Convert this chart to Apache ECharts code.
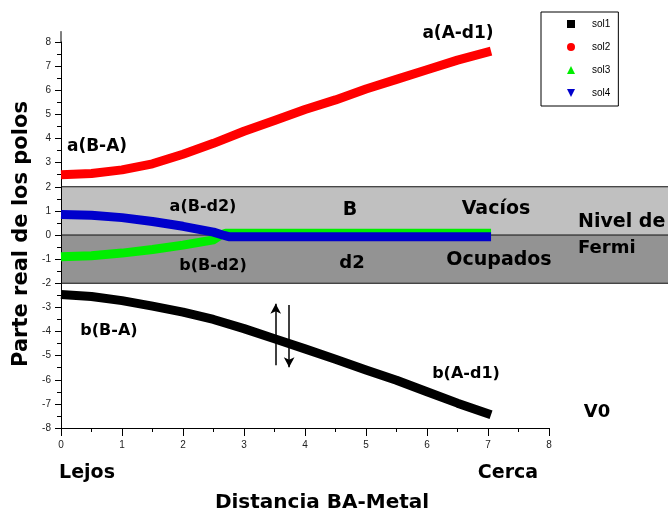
<!DOCTYPE html>
<html>
<head>
<meta charset="utf-8">
<script src="https://cdn.jsdelivr.net/npm/echarts@6/dist/echarts.min.js"></script>
<style>html,body{margin:0;padding:0;background:#fff;}#c{width:668px;height:522px;}</style>
</head>
<body>
<div id="c"></div>
<script>
// ---- data ----
const sol1X = [0, 0.5, 1, 1.5, 2, 2.5, 3, 3.5, 4, 4.5, 5, 5.5, 6, 6.5, 7.05];
const sol1Y = [-2.47, -2.55, -2.72, -2.95, -3.2, -3.5, -3.88, -4.3, -4.72, -5.15, -5.6, -6.02, -6.5, -6.97, -7.45];
const sol2X = [0, 0.5, 1, 1.5, 2, 2.5, 3, 3.5, 4, 4.5, 5, 5.5, 6, 6.5, 7.05];
const sol2Y = [2.5, 2.55, 2.7, 2.95, 3.35, 3.8, 4.3, 4.75, 5.2, 5.6, 6.05, 6.45, 6.85, 7.25, 7.62];
const sol3X = [0, 0.5, 1, 1.5, 2, 2.5, 2.62, 2.7, 7.05];
const sol3Y = [-0.9, -0.86, -0.75, -0.6, -0.42, -0.2, 0.0, 0.07, 0.07];
const sol4X = [0, 0.5, 1, 1.5, 2, 2.5, 2.65, 2.75, 7.05];
const sol4Y = [0.85, 0.82, 0.72, 0.56, 0.36, 0.12, 0.0, -0.07, -0.07];
const seriesNames = ['sol1', 'sol2', 'sol3', 'sol4'];
const bandRanges = [[0, 2], [-2, 0]];      // [bottom, top] of Vacíos / Ocupados bands
const bandLevels = [-2, 0, 2];
const xTicks = [0, 8, 1];
const yTicks = [-8, 8, 1];
const yAxisTop = 8.45;

const pair = (xs, ys) => xs.map((x, i) => [x, ys[i]]);
const F = 'DejaVu Sans';
const bandColors = ['#c0c0c0', '#939393'];

const chart = echarts.init(document.getElementById('c'), null, {renderer: 'canvas'});

function txt(text, x, y, size, align) {
  return {type: 'text', x: x, y: y, z: 50,
    style: {text: text, fontFamily: F, fontWeight: 'bold', fontSize: size, fill: '#000',
      align: align || 'center', verticalAlign: 'middle'}};
}

const colors = ['#000000', '#ff0000', '#00ee00', '#0000cc'];
const lineSeries = [pair(sol1X, sol1Y), pair(sol2X, sol2Y), pair(sol3X, sol3Y), pair(sol4X, sol4Y)].map((d, i) => ({
  name: seriesNames[i], type: 'line', data: d, showSymbol: false, symbol: 'none',
  z: 5 + i, lineStyle: {color: colors[i], width: 9, cap: 'butt', join: 'round'},
  itemStyle: {color: colors[i]}, animation: false
}));

chart.setOption({
  animation: false,
  grid: {left: 61, right: 119, top: 42, bottom: 94},
  xAxis: {type: 'value', min: xTicks[0], max: xTicks[1], interval: xTicks[2],
    axisLine: {onZero: false, lineStyle: {color: '#000', width: 1}},
    axisTick: {length: 8, lineStyle: {color: '#000'}},
    minorTick: {show: true, splitNumber: 2, length: 4, lineStyle: {color: '#000'}},
    splitLine: {show: false},
    axisLabel: {fontFamily: 'Liberation Sans', fontSize: 10, color: '#222', margin: 12}},
  yAxis: {type: 'value', min: yTicks[0], max: yTicks[1], interval: yTicks[2],
    axisLine: {show: true, onZero: false, lineStyle: {color: '#000', width: 1}},
    axisTick: {show: true, length: 6, lineStyle: {color: '#000'}},
    minorTick: {show: true, splitNumber: 2, length: 4, lineStyle: {color: '#000'}},
    splitLine: {show: false},
    axisLabel: {fontFamily: 'Liberation Sans', fontSize: 10, color: '#222', margin: 10}},
  legend: {
    orient: 'vertical', left: 541, top: 12, padding: [7, 8, 8, 26], itemGap: 13,
    itemWidth: 8, itemHeight: 8, borderColor: '#000', borderWidth: 1, backgroundColor: '#fff',
    textStyle: {fontFamily: 'Liberation Sans', fontSize: 10, color: '#000', padding: [0, 0, 0, 12]},
    data: [
      {name: 'sol1', icon: 'rect'},
      {name: 'sol2', icon: 'circle'},
      {name: 'sol3', icon: 'triangle'},
      {name: 'sol4', icon: 'path://M0,0 L10,0 L5,10 Z'}
    ]
  },
  series: [
    {name: 'bands', type: 'custom', clip: false, silent: true, z: 0,
      data: bandRanges,
      renderItem: function (params, api) {
        const pTop = api.coord([0, api.value(1)]);
        const pBot = api.coord([0, api.value(0)]);
        return {type: 'rect',
          shape: {x: pTop[0], y: pTop[1], width: api.getWidth() - pTop[0], height: pBot[1] - pTop[1]},
          style: {fill: bandColors[params.dataIndex]}};
      }},
    {name: 'levels', type: 'custom', clip: false, silent: true, z: 1,
      data: bandLevels.map(v => [0, v]),
      renderItem: function (params, api) {
        const p = api.coord([0, api.value(1)]);
        return {type: 'line', shape: {x1: p[0], y1: p[1], x2: api.getWidth(), y2: p[1]},
          style: {stroke: '#111', lineWidth: 1.2}};
      }},
    {name: 'axisTop', type: 'custom', clip: false, silent: true, z: 1,
      data: [[0, yTicks[1], yAxisTop]],
      renderItem: function (params, api) {
        const a = api.coord([0, api.value(1)]);
        const b = api.coord([0, api.value(2)]);
        return {type: 'line', shape: {x1: a[0], y1: a[1], x2: b[0], y2: b[1]},
          style: {stroke: '#000', lineWidth: 1}};
      }},
    ...lineSeries,
    {name: 'arrows', type: 'line', data: [], z: 20, clip: false, silent: true,
      markLine: {silent: true, symbol: ['none', 'arrow'], symbolSize: [8, 10], label: {show: false},
        lineStyle: {color: '#000', width: 1.5, type: 'solid'},
        data: [
          [{coord: [3.52, -5.4]}, {coord: [3.52, -2.85]}],
          [{coord: [3.74, -2.9]}, {coord: [3.74, -5.48]}]
        ]}}
  ],
  graphic: [
    txt('a(A-d1)', 458, 34, 17),
    txt('a(B-A)', 97, 147, 17),
    txt('a(B-d2)', 203, 207, 16),
    txt('b(B-d2)', 213, 266, 16),
    txt('B', 350, 210, 19),
    txt('d2', 352, 263, 18),
    txt('Vacíos', 496, 209, 19),
    txt('Ocupados', 499, 260, 19),
    txt('Nivel de', 578, 222, 19, 'left'),
    txt('Fermi', 578, 248, 18, 'left'),
    txt('b(B-A)', 109, 331, 16),
    txt('b(A-d1)', 466, 374, 16),
    txt('V0', 597, 412, 18),
    txt('Lejos', 87, 473, 19),
    txt('Cerca', 508, 473, 19),
    txt('Distancia BA-Metal', 322, 503, 20),
    {type: 'text', x: 22, y: 234, rotation: Math.PI / 2, z: 50,
      style: {text: 'Parte real de los polos', fontFamily: F, fontWeight: 'bold', fontSize: 21,
        fill: '#000', align: 'center', verticalAlign: 'middle'}}
  ]
});
</script>
</body>
</html>
